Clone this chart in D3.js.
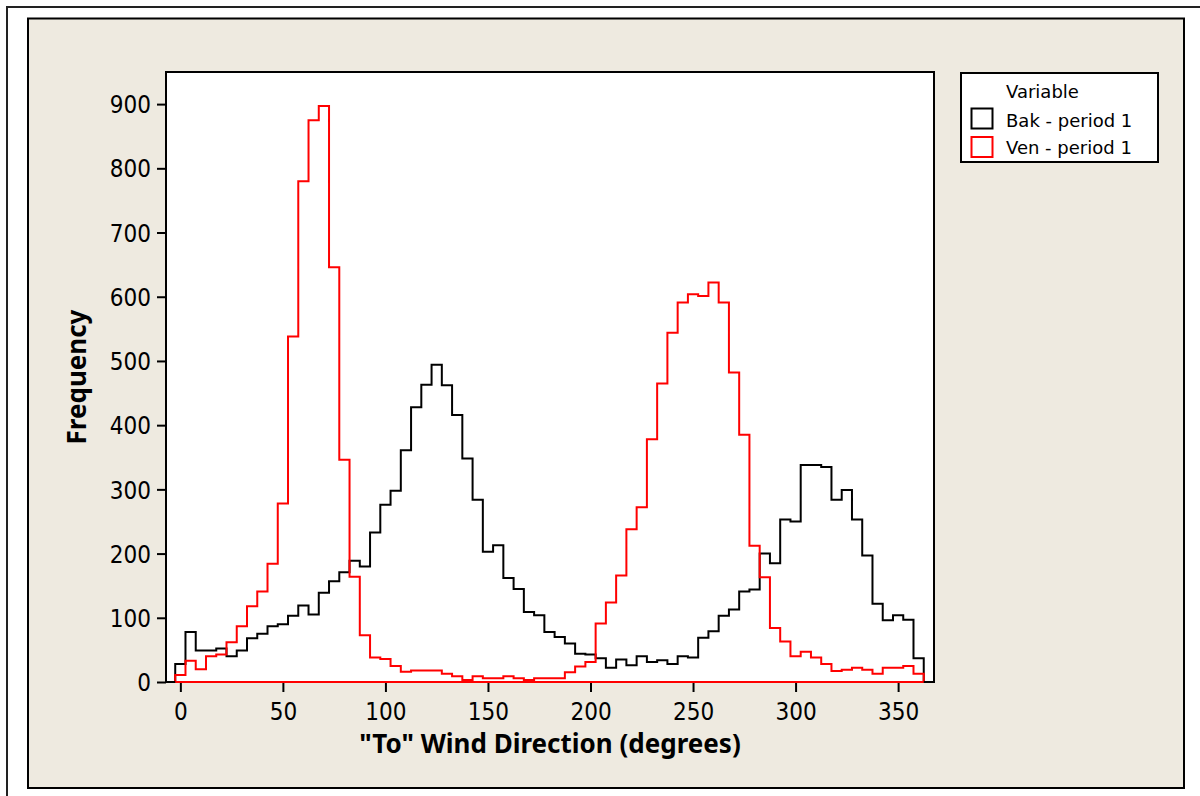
<!DOCTYPE html>
<html>
<head>
<meta charset="utf-8">
<script src="https://cdn.jsdelivr.net/npm/d3@7"></script>
<style>
  body { margin: 0; background: #ffffff; }
  svg { display: block; }
</style>
</head>
<body>
<script>

  // bin midpoints (degrees), 5 degree bins
  var binMids = [0, 5, 10, 15, 20, 25, 30, 35, 40, 45, 50, 55, 60, 65, 70, 75, 80, 85, 90, 95,
    100, 105, 110, 115, 120, 125, 130, 135, 140, 145, 150, 155, 160, 165, 170, 175, 180, 185, 190, 195,
    200, 205, 210, 215, 220, 225, 230, 235, 240, 245, 250, 255, 260, 265, 270, 275, 280, 285, 290, 295,
    300, 305, 310, 315, 320, 325, 330, 335, 340, 345, 350, 355, 360];
  var binWidth = 5;

  // Bak - period 1
  var bakFreq = [28, 78, 49, 49, 52, 40, 49, 68, 75, 87, 90, 103, 119, 105, 139, 157, 171, 189, 180, 233,
    276, 298, 361, 428, 463, 494, 462, 416, 348, 284, 203, 213, 162, 145, 109, 104, 78, 70, 60, 44,
    43, 37, 22, 35, 26, 40, 31, 34, 28, 40, 38, 69, 79, 103, 113, 141, 144, 200, 185, 253,
    250, 338, 338, 335, 284, 299, 253, 197, 122, 96, 104, 97, 37];

  // Ven - period 1
  var venFreq = [11, 33, 20, 40, 43, 62, 87, 118, 141, 184, 278, 538, 780, 875, 897, 646, 346, 164, 73, 38,
    36, 25, 16, 18, 18, 18, 13, 9, 3, 9, 6, 6, 9, 6, 3, 6, 6, 6, 15, 24,
    31, 91, 124, 166, 238, 272, 378, 465, 544, 591, 604, 601, 622, 591, 482, 385, 212, 163, 84, 63,
    40, 47, 38, 28, 17, 19, 22, 19, 13, 22, 22, 25, 13];

  var xTicks = [0, 50, 100, 150, 200, 250, 300, 350];
  var yTicks = [0, 100, 200, 300, 400, 500, 600, 700, 800, 900];

  var seriesNames = ["Bak - period 1", "Ven - period 1"];
  var seriesColors = ["#000000", "#ff0000"];

  var width = 1200, height = 796;

  var plot = { left: 166, right: 934, top: 72, bottom: 682 };

  var x = d3.scaleLinear()
    .domain([-7, 367.5])
    .range([plot.left, plot.right]);

  var y = d3.scaleLinear()
    .domain([0, 950])
    .range([plot.bottom, plot.top]);

  var svg = d3.select("body")
    .append("svg")
    .attr("width", width)
    .attr("height", height);

  // outer frame and grey panel
  svg.append("rect")
    .attr("x", 7).attr("y", 7)
    .attr("width", 1210).attr("height", 810)
    .attr("fill", "#ffffff")
    .attr("stroke", "#222")
    .attr("stroke-width", 2);

  svg.append("rect")
    .attr("x", 28).attr("y", 18.5)
    .attr("width", 1184 - 28).attr("height", 788 - 18.5)
    .attr("fill", "#eeeae0")
    .attr("stroke", "#000")
    .attr("stroke-width", 2);

  // plot area
  svg.append("rect")
    .attr("x", plot.left).attr("y", plot.top)
    .attr("width", plot.right - plot.left)
    .attr("height", plot.bottom - plot.top)
    .attr("fill", "#ffffff");

  //Axes
  var yAxis = svg.append("g")
    .attr("transform", "translate(" + plot.left + ",0)")
    .call(d3.axisLeft(y).tickValues(yTicks).tickSize(9).tickSizeOuter(0).tickPadding(6));

  var xAxis = svg.append("g")
    .attr("transform", "translate(0," + plot.bottom + ")")
    .call(d3.axisBottom(x).tickValues(xTicks).tickSize(10).tickSizeOuter(0).tickPadding(10));

  svg.selectAll(".domain").remove();
  svg.selectAll(".tick line")
    .attr("stroke", "#000")
    .attr("stroke-width", 2);
  svg.selectAll(".tick text")
    .attr("fill", "#000")
    .style("font-family", "'DejaVu Sans Condensed', 'Noto Sans', sans-serif")
    .style("font-size", "24px");

  yAxis.selectAll(".tick text").attr("dy", "0.36em");
  xAxis.selectAll(".tick text").attr("dy", "0.74em");

  // histogram outlines, drawn as steps closed along the zero line
  var line = d3.line()
    .x(function(d) { return x(d[0]); })
    .y(function(d) { return y(d[1]); });

  function stepPoints(values) {
    var pts = [[binMids[0] - binWidth / 2, 0]];
    values.forEach(function(v, i) {
      pts.push([binMids[i] - binWidth / 2, v]);
      pts.push([binMids[i] + binWidth / 2, v]);
    });
    pts.push([binMids[binMids.length - 1] + binWidth / 2, 0]);
    return pts;
  }

  [bakFreq, venFreq].forEach(function(values, k) {
    svg.append("path")
      .attr("class", "hist")
      .attr("d", line(stepPoints(values)) + "Z")
      .attr("fill", "none")
      .attr("stroke", seriesColors[k])
      .attr("stroke-width", 2)
      .attr("stroke-linejoin", "miter");
  });

  // plot frame on top
  svg.append("rect")
    .attr("x", plot.left).attr("y", plot.top)
    .attr("width", plot.right - plot.left)
    .attr("height", plot.bottom - plot.top)
    .attr("fill", "none")
    .attr("stroke", "#000")
    .attr("stroke-width", 2);

  // redraw red baseline over the frame like the original
  svg.append("line")
    .attr("x1", x(binMids[0] - binWidth / 2))
    .attr("x2", x(binMids[binMids.length - 1] + binWidth / 2))
    .attr("y1", y(0)).attr("y2", y(0))
    .attr("stroke", seriesColors[1])
    .attr("stroke-width", 2);

  // axis titles
  svg.append("text")
    .attr("x", (plot.left + plot.right) / 2)
    .attr("y", 753)
    .attr("text-anchor", "middle")
    .style("font-family", "'Noto Sans', sans-serif")
    .style("font-weight", "bold")
    .style("font-size", "26px")
    .text("\"To\" Wind Direction (degrees)");

  svg.append("text")
    .attr("transform", "translate(86," + (plot.top + plot.bottom) / 2 + ") rotate(-90)")
    .attr("text-anchor", "middle")
    .style("font-family", "'Noto Sans', sans-serif")
    .style("font-weight", "bold")
    .style("font-size", "26px")
    .text("Frequency");

  // legend
  var legend = svg.append("g").attr("class", "legend");

  legend.append("rect")
    .attr("x", 961).attr("y", 73)
    .attr("width", 1158 - 961).attr("height", 162 - 73)
    .attr("fill", "#ffffff")
    .attr("stroke", "#000")
    .attr("stroke-width", 2);

  legend.append("text")
    .attr("x", 1006).attr("y", 98)
    .style("font-family", "'DejaVu Sans', sans-serif")
    .style("font-size", "18px")
    .text("Variable");

  seriesNames.forEach(function(name, i) {
    legend.append("rect")
      .attr("x", 971.5).attr("y", 108.5 + i * 28.5)
      .attr("width", 21).attr("height", 20)
      .attr("fill", "#ffffff")
      .attr("stroke", seriesColors[i])
      .attr("stroke-width", 2);

    legend.append("text")
      .attr("x", 1006).attr("y", 126.5 + i * 27.5)
      .style("font-family", "'DejaVu Sans', sans-serif")
      .style("font-size", "18px")
      .text(name);
  });

</script>
</body>
</html>
